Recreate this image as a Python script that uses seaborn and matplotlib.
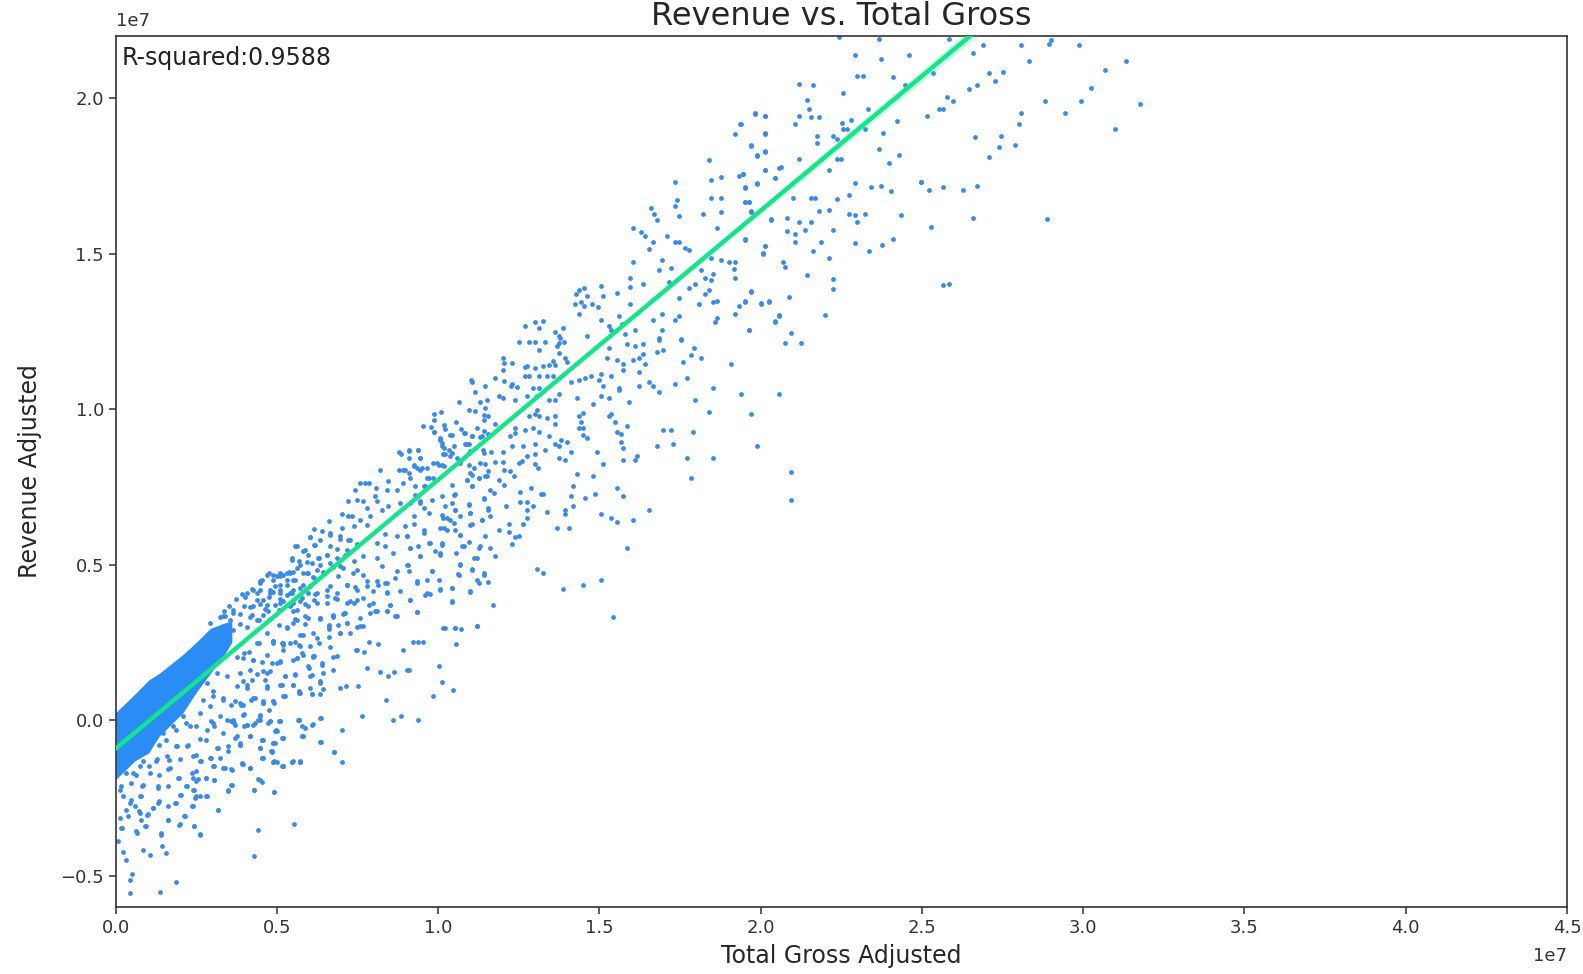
#!/usr/bin/env python3
import numpy as np
import pandas as pd
import matplotlib
matplotlib.use("Agg")
import matplotlib.pyplot as plt
import seaborn as sns

# all values in units of 1e7
high_gross = [2.267,2.392,2.611,2.317,2.397,2.486,2.717,2.686,2.837,2.929,2.924,3.019,2.862,3.163,3.099,2.780,2.736,2.755,2.699,2.673,3.055,
    2.323,2.342,2.436,2.561,2.473,2.141,2.185,2.279,2.167,2.605,2.623,2.911,3.024,3.209,2.173,2.357,2.580,2.592,2.004,2.035,2.141,2.179,2.204,2.542,2.836,2.974,
    2.304,2.277,2.129,2.448,2.830,1.959,2.281,2.293,2.348,3.131,2.035,2.198,2.248,2.404,2.692,2.774,2.260,2.198,1.991,2.817,2.767,2.392,2.035,2.010,2.454,2.736,
    2.141,2.260,2.273,2.423,2.085,2.035,2.235,1.966,2.066,2.010,2.317,2.522,2.522,2.367,2.398,1.973,2.548,2.592,2.655,2.699,2.429,2.298,2.123,2.179,2.192,2.260,
    1.973,1.985,1.991,2.204,2.235,2.298,2.317,2.348,2.461,2.686,2.918,2.054,2.104,2.141,2.179,2.323,2.555,2.160,2.248,2.104,2.129,1.973,2.129,2.210,2.317,2.400,2.436,
    2.035,2.029,2.185,2.361,2.235,2.091,2.098,2.167,2.248,2.248,2.592,2.611,1.991,2.110,1.973,2.023,2.048,2.079,2.066,2.223,1.985,2.117,2.098,2.148]
high_rev = [2.194,2.187,2.187,2.135,2.122,2.135,2.167,2.142,2.167,2.185,2.172,2.167,2.115,2.115,2.088,2.082,2.076,2.050,2.037,2.024,2.030,
    2.069,2.069,2.063,2.076,2.037,2.043,2.037,2.011,1.991,1.998,1.985,1.985,1.985,1.978,1.959,1.959,1.959,1.959,1.946,1.939,1.939,1.933,1.933,1.939,1.946,1.946,
    1.926,1.914,1.913,1.920,1.913,1.913,1.894,1.894,1.894,1.894,1.881,1.874,1.874,1.881,1.868,1.874,1.862,1.849,1.842,1.842,1.836,1.829,1.823,1.810,1.812,1.803,
    1.797,1.797,1.797,1.784,1.771,1.764,1.764,1.751,1.738,1.719,1.719,1.724,1.724,1.706,1.712,1.706,1.699,1.706,1.699,1.712,1.693,1.680,1.673,1.673,1.673,1.667,
    1.660,1.660,1.628,1.628,1.634,1.621,1.615,1.621,1.615,1.608,1.602,1.602,1.608,1.595,1.595,1.595,1.576,1.569,1.569,1.563,1.556,1.537,1.530,1.530,1.524,1.520,1.537,
    1.517,1.492,1.498,1.498,1.478,1.465,1.446,1.420,1.407,1.375,1.388,1.393,1.368,1.349,1.336,1.329,1.336,1.290,1.271,1.290,1.244,1.232,1.199,1.199]

upper_gross = [2.003,2.035,1.960,1.941,2.035,1.991,2.035,2.010,1.859,2.035,2.079,1.966,1.953,1.897,1.866,2.066,1.753,2.010,1.972,1.866,1.897,1.759,1.972,1.985,1.753,
    1.678,1.690,1.697,1.841,1.897,1.766,1.991,2.053,1.622,1.885,1.647,1.659,1.728,1.972,1.684,1.753,1.766,2.035,1.672,1.784,1.797,2.028,1.866,1.897,1.622,1.715,1.922,1.941,
    1.703,1.741,1.834,1.872,1.938,1.615,1.847,1.866,1.941,1.653,1.734,1.816,1.522,1.615,1.471,1.453,1.446,1.797,1.859,1.572,1.991,1.478,1.528,1.847,1.766,
    1.440,1.459,1.471,1.496,1.615,1.828,1.515,1.872,1.885,1.953,1.972,2.022,2.047,1.453,1.578,1.715,1.766,1.941,1.522,1.684,1.753,1.885,1.878,2.066,2.079,
    1.284,1.315,1.340,1.328,1.403,1.378,1.390,1.396,1.478,1.547,1.553,1.590,1.597,1.628,1.715,1.985,1.703,1.772]
upper_rev = [1.945,1.938,1.912,1.880,1.880,1.841,1.821,1.808,1.795,1.763,1.769,1.750,1.743,1.740,1.730,1.737,1.724,1.718,1.705,1.672,1.672,1.666,1.659,1.659,1.646,
    1.640,1.620,1.601,1.620,1.627,1.614,1.627,1.601,1.575,1.575,1.562,1.549,1.549,1.536,1.529,1.529,1.529,1.516,1.507,1.510,1.503,1.490,1.477,1.471,1.464,1.471,1.464,1.464,
    1.438,1.445,1.438,1.425,1.442,1.412,1.412,1.406,1.412,1.393,1.399,1.393,1.386,1.383,1.380,1.373,1.360,1.380,1.373,1.364,1.367,1.354,1.354,1.360,1.347,
    1.328,1.334,1.322,1.328,1.328,1.328,1.318,1.334,1.338,1.321,1.334,1.328,1.334,1.295,1.289,1.295,1.289,1.295,1.276,1.276,1.276,1.283,1.270,1.270,1.289,
    1.257,1.270,1.273,1.250,1.250,1.237,1.224,1.218,1.224,1.257,1.244,1.263,1.231,1.244,1.244,1.244,1.218,1.213]

mid_gross = [1.215,1.221,1.246,1.215,1.265,1.297,1.315,1.347,1.328,1.390,1.385,1.406,1.392,1.409,1.416,1.284,1.290,1.315,1.340,1.359,1.372,1.378,
    1.284,1.297,1.328,1.353,1.372,1.190,1.221,1.240,1.259,1.246,1.115,1.121,1.159,1.128,1.309,1.328,1.290,1.322,1.203,1.215,1.253,1.359,1.378,1.390,
    1.078,1.146,1.165,1.159,1.109,1.128,1.002,1.021,1.002,1.156,1.168,1.156,1.322,1.297,1.315,1.328,1.353,1.378,1.378,
    0.965,0.990,1.002,1.031,1.036,1.071,1.057,1.086,1.098,1.134,1.121,1.146,1.156,1.171,1.190,1.253,1.284,1.309,1.255,1.239,1.328,1.359,
    1.020,1.025,1.031,1.046,1.062,1.036,1.051,1.109,1.098,1.109,1.153,1.178,1.215,1.246,1.278,1.315,1.347,1.378,1.397,1.415,1.390,1.428,
    0.924,0.952,0.898,0.958,0.911,0.921,0.937,0.947,0.963,0.999,1.015,1.031,1.072,1.083,1.109,
    1.390,1.409,1.315,1.290,1.265,1.276,1.190,1.215,1.159,1.221,1.315,1.325,1.509,1.528,1.591,1.628,1.634,1.791,1.872,2.116,
    1.453,1.466,1.459,1.466,1.453,1.466,1.478,1.547,1.553,1.566,1.603,1.572,1.584,1.584,1.591,
    1.860,1.991,1.716,1.741,1.810,1.697,1.747,2.010,1.816,1.960,2.079,1.872,1.929,1.791,1.753,1.703,1.672,1.685,
    1.447,1.497,1.522,1.547,1.609,1.578,1.641,1.641,1.591,1.660,1.778,1.835,1.803,1.813,
    1.428,1.453,1.472,1.491,1.522,1.516,1.553,1.528,1.578,1.541,1.572,1.591,1.622,1.641,1.653,1.547,1.603,1.628,1.653,1.703,1.697,1.716,1.772]
mid_rev = [1.152,1.135,1.135,1.114,1.204,1.204,1.204,1.204,1.179,1.200,1.190,1.203,1.168,1.152,1.138,1.121,1.127,1.119,1.127,1.130,1.141,1.130,
    1.094,1.094,1.094,1.094,1.094,1.088,1.076,1.062,1.057,1.068,1.081,1.073,1.062,1.042,1.055,1.055,1.029,1.029,1.029,1.022,1.016,1.016,1.016,1.036,
    1.010,1.010,1.016,0.990,0.984,0.979,0.971,0.977,0.951,0.968,0.962,0.951,0.984,0.964,0.971,0.964,0.958,0.964,0.938,
    0.932,0.928,0.913,0.935,0.921,0.945,0.903,0.921,0.908,0.925,0.900,0.895,0.915,0.906,0.938,0.925,0.919,0.925,0.908,0.900,0.913,0.900,
    0.892,0.876,0.860,0.854,0.865,0.841,0.832,0.874,0.874,0.843,0.854,0.848,0.848,0.867,0.867,0.874,0.854,0.874,0.887,0.880,0.867,0.848,
    0.849,0.854,0.841,0.827,0.789,0.778,0.805,0.795,0.795,0.811,0.805,0.800,0.827,0.811,0.805,
    0.828,0.822,0.841,0.832,0.811,0.816,0.815,0.815,0.809,0.789,0.809,0.795,0.848,0.809,0.822,0.822,0.835,0.828,0.828,0.783,
    0.964,0.973,0.945,0.925,0.925,0.903,0.893,0.962,0.971,0.945,0.932,0.913,0.906,0.880,0.861,
    0.977,0.971,0.919,0.919,0.913,0.867,0.874,0.867,1.016,1.036,1.036,1.055,1.133,1.088,1.068,1.042,1.075,1.062,
    1.023,1.003,1.029,1.023,1.010,1.049,1.062,1.107,1.114,1.133,1.140,1.153,1.162,1.185,
    1.075,1.081,1.088,1.094,1.101,1.081,1.094,1.062,1.055,1.153,1.146,1.133,1.146,1.153,1.166,1.185,1.198,1.192,1.198,1.211,1.172,1.179,1.211]

lower_gross = [1.447,1.497,1.434,1.428,1.503,1.472,1.572,1.591,1.434,1.409,1.409,1.672,1.522,1.553,1.572,1.622,1.803,2.116,
    1.384,1.422,1.603,1.522,1.466,1.403,1.559,1.322,1.340,1.353,1.340,1.334,1.303,1.290,1.309,1.290,1.278,1.271,1.290,1.271,
    1.250,1.239,1.203,1.218,1.177,1.187,1.156,1.171,1.227,1.234,1.203,1.234,1.255,1.246,1.265,
    1.171,1.161,1.140,1.119,1.104,1.119,1.057,1.067,1.025,0.984,0.968,0.942,0.958,0.994,1.057,1.067,1.025,1.041,1.062,1.109,1.114,1.151,1.177,1.119,
    0.984,0.937,0.911,0.937,0.968,1.031,1.067,1.083,1.025,0.984,0.916,0.926,1.004,1.020,0.958,0.918,1.088,1.109,1.140,1.159,1.177,1.192,1.127,
    0.994,0.978,0.947,0.973,0.989,1.020,1.057,1.078,1.083,1.121,1.156,1.140,1.171,1.114,0.926,1.057,1.184,0.949,1.034,1.065,1.084,1.134,1.070]
lower_rev = [0.776,0.770,0.737,0.705,0.711,0.698,0.731,0.705,0.672,0.659,0.646,0.659,0.646,0.633,0.620,0.627,0.763,0.692,
    0.601,0.601,0.536,0.432,0.413,0.400,0.309,0.465,0.452,0.653,0.711,0.711,0.731,0.659,0.670,0.633,0.614,0.685,0.685,0.718,
    0.768,0.784,0.757,0.740,0.724,0.713,0.695,0.665,0.670,0.614,0.594,0.588,0.571,0.549,0.575,
    0.784,0.768,0.762,0.773,0.757,0.735,0.740,0.711,0.703,0.762,0.735,0.708,0.681,0.692,0.681,0.657,0.643,0.632,0.616,0.676,0.648,0.627,0.638,0.611,
    0.649,0.638,0.605,0.614,0.594,0.600,0.594,0.578,0.546,0.551,0.573,0.535,0.524,0.513,0.508,0.481,0.540,0.554,0.535,0.573,0.535,0.508,0.502,
    0.459,0.432,0.421,0.383,0.386,0.400,0.405,0.448,0.481,0.465,0.448,0.421,0.424,0.392,0.367,0.360,0.348,0.327,0.275,0.275,0.270,0.281,0.224]

tail_gross = [0.934,0.952,0.965,0.827,0.796,0.905,0.758,0.783,1.015,0.921,0.916,0.877,0.833,0.858,0.790,1.027,1.059,0.999,0.852,0.764,0.727,0.708,
    0.777,0.896,0.871,0.952,0.714,0.646,0.621,0.596,0.577,0.589,0.646,0.689,0.714,0.583,0.558,0.527,0.498,0.509,0.464,0.495,0.502,0.527,0.464,0.458,0.426,
    0.516,0.504,0.483,0.457,0.441,0.415,0.405,0.384,0.373,0.352,0.394,0.358,0.323,0.300,0.311,0.269,0.248,0.425,0.399,0.368,0.347,
    0.451,0.464,0.439,0.500,0.370,0.358,0.326,0.314,0.290,0.269,0.287,0.264,0.248,0.253,0.206,0.201,0.191,0.248,0.227,0.451,0.564,0.439,
    0.222,0.206,0.170,0.251,0.269,0.147,0.149,0.162,0.113,0.092,0.097,0.071,0.081,0.045,0.102,0.019,0.024,0.014,0.029,0.038,0.055,0.050,0.194,0.144,0.050]
tail_rev = [0.229,0.229,0.229,0.223,0.229,0.204,0.204,0.197,0.152,0.139,0.139,0.132,0.132,0.119,0.145,0.100,0.074,0.054,0.041,0.087,0.087,0.080,
    -0.011,-0.011,-0.024,-0.024,-0.056,-0.017,-0.037,-0.050,-0.024,-0.075,-0.095,-0.127,-0.160,-0.160,-0.160,-0.173,-0.160,-0.160,-0.147,-0.128,-0.098,-0.082,-0.089,-0.114,-0.075,
    -0.026,-0.060,-0.033,-0.012,-0.033,-0.039,-0.006,-0.077,-0.028,-0.023,-0.104,-0.125,-0.114,-0.147,-0.174,-0.158,-0.142,-0.179,-0.165,-0.185,-0.179,
    -0.217,-0.226,-0.252,-0.258,-0.234,-0.252,-0.317,-0.219,-0.271,-0.271,-0.214,-0.217,-0.250,-0.277,-0.266,-0.212,-0.293,-0.304,-0.239,-0.382,-0.362,-0.465,
    -0.336,-0.363,-0.349,-0.369,-0.396,-0.396,-0.434,-0.455,-0.461,-0.445,-0.369,-0.390,-0.325,-0.336,-0.331,-0.342,-0.374,-0.418,-0.453,-0.479,-0.523,-0.544,-0.551,-0.582,-0.585]

band_gross = [0.890,0.924,0.952,0.957,0.924,1.020,1.025,1.057,1.030,1.000,1.051,1.093,1.119,1.150,1.103,1.114,1.156,1.145,1.114,1.126,1.103,1.140,1.166,1.119,1.156,1.171,1.109,1.114,
    1.062,1.036,1.067,1.030,1.051,1.083,1.114,1.150,1.083,1.020,1.041,0.968,0.989,1.025,1.020,0.957,0.952,0.926,0.916,0.884,0.848,0.822,0.848,0.874,0.822,0.837,0.916,0.884,0.879,0.921,
    0.947,0.978,0.994,1.015,1.020,1.057,1.077,1.083,1.114,1.119,1.135,1.156,1.145,1.135,1.093,1.070,1.057,1.135,1.067,1.030,0.947,0.926,0.864,0.853,0.817,0.884,0.796,0.770,0.780,
    0.723,0.686,0.645,0.671,0.702,0.728,0.598,0.572,0.561,0.608,0.634,0.665,0.691,0.738,0.759,0.791,0.827,0.853,0.895,0.853,0.780,0.759,0.749,0.780,0.728,0.702,0.676,0.634,0.608,0.587,0.561,
    0.832,0.890,0.905,0.937,0.957,0.978,0.978,0.999,1.010,1.025,0.926,0.905,0.858,0.785,0.770,0.796,0.754,0.820,0.853,0.884,0.942,0.973,0.817,0.822,0.780,0.733,0.759,0.837,0.858,0.895,0.926,0.957,0.968,
    0.712,0.744,0.770,0.791,0.801,0.791,0.749,0.733,0.671,0.624,0.650,0.676,0.613,0.712,0.707,0.733,0.759,0.676,0.624,0.566,0.592,0.556,0.577,0.608,0.639,0.665,0.697,0.723,0.645,0.676,0.707,
    0.530,0.509,0.478,0.551,0.608,0.624,0.457,0.504,0.540,0.561,0.488,0.519,0.556,0.446,0.467,0.504,0.530,0.436,0.452,0.483]
band_rev = [0.845,0.852,0.854,0.827,0.827,0.886,0.865,0.843,0.841,0.913,0.903,0.908,0.899,0.897,0.873,0.849,0.843,0.811,0.778,0.794,0.757,0.762,0.767,0.735,0.697,0.659,0.675,0.648,
    0.708,0.670,0.659,0.632,0.627,0.640,0.610,0.627,0.578,0.600,0.594,0.583,0.551,0.551,0.518,0.508,0.540,0.535,0.573,0.573,0.581,0.551,0.540,0.518,0.502,0.477,0.481,0.459,0.437,0.459,
    0.427,0.389,0.459,0.432,0.399,0.405,0.451,0.484,0.394,0.464,0.432,0.454,0.540,0.502,0.540,0.518,0.362,0.280,0.275,0.275,0.326,0.367,0.351,0.329,0.329,0.313,0.351,0.307,0.280,
    0.324,0.318,0.307,0.286,0.286,0.291,0.313,0.302,0.329,0.345,0.356,0.356,0.372,0.362,0.367,0.410,0.416,0.421,0.394,0.389,0.448,0.464,0.491,0.508,0.416,0.443,0.410,0.389,0.389,0.372,0.356,
    0.789,0.789,0.789,0.800,0.789,0.794,0.762,0.762,0.811,0.805,0.762,0.746,0.751,0.746,0.746,0.746,0.724,0.729,0.724,0.724,0.735,0.735,0.702,0.686,0.686,0.686,0.692,0.659,0.670,0.681,0.681,0.686,0.665,
    0.646,0.640,0.627,0.665,0.638,0.610,0.605,0.638,0.621,0.596,0.589,0.583,0.570,0.600,0.573,0.562,0.540,0.540,0.546,0.542,0.524,0.502,0.491,0.513,0.502,0.513,0.502,0.513,0.481,0.486,0.475,
    0.448,0.443,0.448,0.454,0.454,0.437,0.427,0.410,0.416,0.432,0.389,0.389,0.389,0.389,0.367,0.351,0.362,0.345,0.302,0.329]

near_gross = [0.498,0.519,0.540,0.572,0.603,0.634,0.457,0.488,0.519,0.551,0.582,0.613,0.415,0.446,0.478,0.405,0.431,0.347,0.373,0.467,
    0.519,0.551,0.582,0.624,0.665,0.697,0.728,0.759,0.791,0.822,0.848,0.811,0.853,0.780,0.728,0.749,0.811,0.822,0.853,0.864,0.879,0.801,0.718,0.686,0.645,0.608,0.561,0.540,0.582,0.634,0.671,0.707,0.728,0.770,
    0.676,0.697,0.624,0.572,0.530,0.498,0.446,0.405,0.436,0.478,0.509,0.582,0.608,0.650,0.686,0.613,0.644,0.577,0.618,0.644,0.561,0.525,0.535,0.566,0.478,0.446,0.415,0.384,0.352,0.321,0.290,0.311,0.342,0.394,0.436,0.478,0.467,0.499,
    0.300,0.332,0.269,0.290,0.311,0.238,0.217,0.186,0.154,0.196,0.165,0.133,0.227,0.269,0.206,0.243,0.175,0.139,0.081,0.113,0.061,0.087,0.050,0.019,0.066,0.081,0.123,0.139,
    0.300,0.330,0.345,0.360,0.380,0.400,0.430]
near_rev = [0.448,0.443,0.454,0.470,0.454,0.464,0.421,0.399,0.399,0.389,0.405,0.410,0.389,0.367,0.351,0.345,0.318,0.313,0.324,0.318,
    0.356,0.345,0.362,0.367,0.378,0.389,0.416,0.399,0.427,0.427,0.421,0.394,0.391,0.372,0.356,0.356,0.356,0.329,0.329,0.351,0.313,0.324,0.324,0.313,0.307,0.307,0.291,0.275,0.253,0.243,0.270,0.259,0.291,0.280,
    0.213,0.183,0.183,0.178,0.226,0.232,0.226,0.194,0.172,0.188,0.161,0.216,0.151,0.156,0.140,0.118,0.097,0.064,0.059,0.059,0.091,0.091,0.118,0.124,0.129,0.124,0.091,0.086,0.118,0.129,0.097,0.069,0.042,0.032,0.048,0.086,0.037,0.032,
    0.021,-0.012,-0.001,-0.055,-0.033,-0.044,-0.012,-0.044,-0.066,-0.109,-0.141,-0.152,-0.109,-0.087,-0.152,-0.196,-0.179,-0.239,-0.174,-0.196,-0.196,-0.239,-0.293,-0.250,-0.304,-0.271,-0.309,-0.293,
    0.290,0.310,0.330,0.345,0.370,0.385,0.400]

# second pass around the crowded part, read with the right scale
crowd_gross = [0.334,0.365,0.401,0.427,0.453,0.474,0.510,0.536,0.546,0.561,0.587,0.603,0.618,0.634,0.665,0.696,0.727,0.748,
    0.355,0.386,0.417,0.448,0.417,0.386,0.344,0.313,0.293,0.365,0.406,0.437,0.474,0.463,0.489,0.510,0.530,0.556,0.582,0.608,0.629,0.655,0.686,0.717,0.593,0.572,0.551,0.489,0.448,0.510,0.530,0.551,0.582,0.613,0.644,0.675,0.706,0.541,0.505,0.479,
    0.561,0.587,0.618,0.655,0.686,0.717,0.737,0.742,0.706,0.675,0.634,0.587,0.556,0.530,0.505,0.489,0.520,0.556,0.582,0.613,0.660,0.660,0.696,0.727,0.748,0.629,0.582,0.561,0.613,0.675,0.748,0.520,0.468,0.443,0.412,0.453,0.510,0.427,0.396,0.375,
    0.270,0.301,0.332,0.358,0.389,0.420,0.456,0.487,0.518,0.570,0.296,0.306,0.280,0.249,0.218,0.187,0.156,0.135,0.187,0.223,0.249,0.265,0.296,0.322,0.316,0.358,0.368,0.332,0.347,0.384,0.399,0.425,0.446,0.477,0.508,0.497,0.415,0.456,0.487,0.448,0.482,0.518,0.564,0.580,
    0.394,0.415,0.456,0.492,0.518,0.549,0.570,0.358,0.332,0.306,0.280,0.306,0.249,0.239,0.249,0.197,0.161,0.135,0.125,0.166,0.104,0.084,0.063,0.032,0.016,0.047,0.084,0.130,0.161,0.218,0.203,0.244,0.249,0.280,0.347,0.358,0.446,0.430,0.492,
    0.115,0.135,0.161,0.187,0.237,0.316,0.079,0.047,0.022,0.032,0.073,0.099,0.079,0.161,0.213,0.197,0.244,0.262,0.094,0.063,0.140,0.016,
    0.489,0.515,0.541,0.567,0.603,0.577,0.551,0.510,0.484,0.458,0.479,0.417,0.386,0.396,0.422,0.406,0.463,0.468,0.510,0.525,0.556,0.551,0.567,0.525,0.489,0.458,0.432,0.396,0.370,0.474,0.448,0.396,0.365,0.370,0.406,0.442,0.479,0.510,
    0.499,0.417,0.370,0.453,0.489,0.515,0.448,0.386,0.484,0.453,0.391,0.417,0.489,0.515,0.546,0.572,0.613,0.639,0.598,0.608,0.644,0.603,0.634,0.644,0.608,0.567,0.608,0.577,0.634,0.577,0.634,0.677]
crowd_rev = [0.335,0.354,0.397,0.418,0.450,0.472,0.472,0.477,0.514,0.559,0.547,0.589,0.563,0.579,0.595,0.584,0.579,0.568,
    0.322,0.343,0.365,0.375,0.332,0.311,0.290,0.290,0.268,0.290,0.300,0.322,0.397,0.359,0.413,0.434,0.450,0.450,0.472,0.504,0.520,0.531,0.552,0.547,0.509,0.498,0.477,0.450,0.418,0.391,0.402,0.418,0.434,0.461,0.477,0.493,0.488,0.370,0.354,0.327,
    0.354,0.375,0.407,0.418,0.391,0.434,0.472,0.429,0.343,0.332,0.327,0.311,0.327,0.300,0.306,0.247,0.241,0.252,0.273,0.279,0.300,0.268,0.279,0.279,0.300,0.247,0.209,0.199,0.204,0.204,0.225,0.225,0.279,0.247,0.220,0.188,0.188,0.193,0.199,0.204,
    0.066,0.077,0.072,0.050,0.050,0.066,0.056,0.061,0.077,0.088,-0.003,-0.019,-0.062,-0.019,-0.008,-0.030,-0.062,-0.078,-0.084,-0.078,-0.110,-0.132,-0.121,-0.121,-0.089,-0.003,-0.009,-0.041,-0.084,-0.073,-0.019,-0.014,0.002,-0.003,-0.003,-0.030,-0.051,-0.062,-0.073,-0.089,-0.100,-0.057,0.002,-0.051,
    -0.142,-0.153,-0.121,-0.132,-0.148,-0.132,-0.132,-0.156,-0.153,-0.146,-0.185,-0.193,-0.164,-0.185,-0.196,-0.185,-0.158,-0.175,-0.132,-0.126,-0.148,-0.132,-0.175,-0.169,-0.212,-0.201,-0.207,-0.217,-0.212,-0.212,-0.239,-0.223,-0.244,-0.244,-0.228,-0.207,-0.191,-0.223,-0.231,
    -0.282,-0.260,-0.276,-0.266,-0.276,-0.289,-0.244,-0.255,-0.244,-0.287,-0.292,-0.300,-0.319,-0.321,-0.308,-0.335,-0.340,-0.365,-0.340,-0.357,-0.362,-0.346,
    0.254,0.249,0.249,0.243,0.238,0.216,0.195,0.190,0.184,0.158,0.158,0.163,0.152,0.125,0.131,0.104,0.131,0.104,0.115,0.141,0.147,0.115,0.093,0.077,0.061,0.056,0.072,0.050,0.061,0.034,0.018,0.018,0.002,-0.014,-0.014,0.002,-0.003,-0.003,
    -0.035,-0.051,-0.057,-0.062,-0.073,-0.057,-0.089,-0.078,-0.100,-0.121,-0.140,-0.153,-0.134,-0.148,-0.134,-0.134,0.206,0.184,0.168,0.147,0.152,0.104,0.125,0.099,0.083,0.002,-0.014,-0.019,0.008,-0.051,-0.071,-0.102]

# saturated wedge near the origin, too many points to pick apart
dense_gross = [0.000,0.030,0.060,0.103,0.134,0.209,0.249,0.293,0.330,0.360]
dense_upper = [0.025,0.055,0.085,0.130,0.150,0.212,0.250,0.295,0.310,0.320]
dense_lower = [-0.190,-0.160,-0.130,-0.104,-0.052,0.025,0.089,0.150,0.200,0.250]

fit_gross = [0.0, 1.0, 2.0, 2.65, 3.2]
fit_rev = [-0.091, 0.773, 1.638, 2.200, 2.675]
fit_ci = [0.003, 0.004, 0.012, 0.022, 0.030]

xticks = [0.0, 0.5, 1.0, 1.5, 2.0, 2.5, 3.0, 3.5, 4.0, 4.5]
yticks = [-0.5, 0.0, 0.5, 1.0, 1.5, 2.0]

sns.set_theme(style="ticks", rc={"axes.edgecolor": "#333333", "axes.linewidth": 1.2,
                                 "xtick.color": "#333333", "ytick.color": "#333333",
                                 "xtick.major.size": 5, "ytick.major.size": 5,
                                 "xtick.major.width": 1.1, "ytick.major.width": 1.1,
                                 "font.family": "DejaVu Sans"})

# the first picks were taken with a slightly off pixel scale, corrected here
gross = np.array(high_gross + upper_gross + mid_gross + lower_gross + tail_gross + band_gross + near_gross) * 0.9916 - 0.0053
revenue = np.array(high_rev + upper_rev + mid_rev + lower_rev + tail_rev + band_rev + near_rev) * 0.9894 + 0.0247
gross = np.concatenate([gross, crowd_gross])
revenue = np.concatenate([revenue, crowd_rev])
df = pd.DataFrame({"gross": gross * 1e7, "revenue": revenue * 1e7})
fit = pd.DataFrame({"gross": np.array(fit_gross) * 1e7, "revenue": np.array(fit_rev) * 1e7})

fig = plt.figure(figsize=(15.83, 9.74), dpi=100)
ax = fig.add_axes([115.7 / 1583, 1 - 907 / 974, 1451.3 / 1583, 871.3 / 974])

ax.fill_between(np.array(dense_gross) * 1e7, np.array(dense_lower) * 1e7, np.array(dense_upper) * 1e7,
                color="#2a8cf5", linewidth=0, zorder=1)
sns.scatterplot(data=df, x="gross", y="revenue", color="#3a8be8", s=12, linewidth=0, ax=ax, zorder=2)
ax.fill_between(fit["gross"], fit["revenue"] - np.array(fit_ci) * 1e7, fit["revenue"] + np.array(fit_ci) * 1e7,
                color="#12e58a", alpha=0.2, linewidth=0, zorder=3)
sns.lineplot(data=fit, x="gross", y="revenue", color="#12e58a", linewidth=3.2, ax=ax, zorder=4)

ax.set_xlim(0, 4.5e7)
ax.set_ylim(-0.6e7, 2.2e7)
ax.set_xticks(np.array(xticks) * 1e7)
ax.set_yticks(np.array(yticks) * 1e7)
ax.tick_params(labelsize=13)
ax.xaxis.get_offset_text().set_fontsize(13)
ax.yaxis.get_offset_text().set_fontsize(13)
ax.xaxis.OFFSETTEXTPAD = 7
ax.yaxis.OFFSETTEXTPAD = 7
ax.set_title("Revenue vs. Total Gross", fontsize=23, pad=8)
ax.set_xlabel("Total Gross Adjusted", fontsize=17, labelpad=5)
ax.set_ylabel("Revenue Adjusted", fontsize=17, labelpad=13)
ax.text(0.004, 0.974, "R-squared:0.9588", transform=ax.transAxes, fontsize=17, va="center", color="#222222")

fig.savefig("out.png", dpi=100)
